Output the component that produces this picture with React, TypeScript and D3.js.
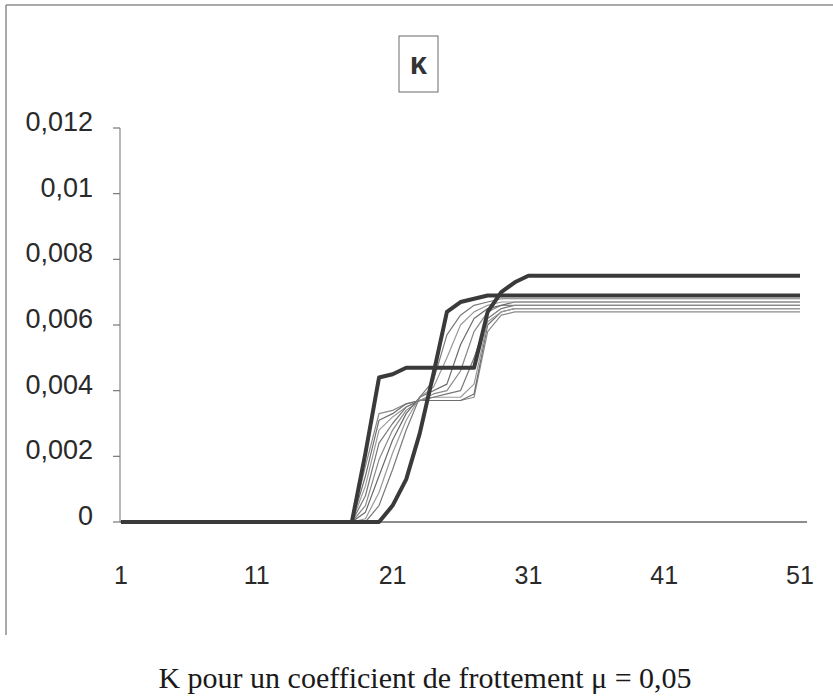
import React from "react";
import * as d3 from "d3";

// category index 1..51
const categories: number[] = d3.range(1, 52);
const xTickLabels: number[] = [1, 11, 21, 31, 41, 51];
const yTicks: number[] = [0, 0.002, 0.004, 0.006, 0.008, 0.01, 0.012];
const yTickLabels: string[] = ["0", "0,002", "0,004", "0,006", "0,008", "0,01", "0,012"];

// thick series (two steps: ~0.0047 then ~0.0075)
const seriesA: number[] = [
  0, 0, 0, 0, 0, 0, 0, 0, 0, 0,
  0, 0, 0, 0, 0, 0, 0, 0, 0.0021, 0.0044,
  0.0045, 0.0047, 0.0047, 0.0047, 0.0047, 0.0047, 0.0047, 0.0064, 0.007, 0.0073,
  0.0075, 0.0075, 0.0075, 0.0075, 0.0075, 0.0075, 0.0075, 0.0075, 0.0075, 0.0075,
  0.0075, 0.0075, 0.0075, 0.0075, 0.0075, 0.0075, 0.0075, 0.0075, 0.0075, 0.0075,
  0.0075,
];
// thick series (late rise to ~0.0069)
const seriesB: number[] = [
  0, 0, 0, 0, 0, 0, 0, 0, 0, 0,
  0, 0, 0, 0, 0, 0, 0, 0, 0, 0,
  0.0005, 0.0013, 0.0027, 0.0045, 0.0064, 0.0067, 0.0068, 0.0069, 0.0069, 0.0069,
  0.0069, 0.0069, 0.0069, 0.0069, 0.0069, 0.0069, 0.0069, 0.0069, 0.0069, 0.0069,
  0.0069, 0.0069, 0.0069, 0.0069, 0.0069, 0.0069, 0.0069, 0.0069, 0.0069, 0.0069,
  0.0069,
];
// thin intermediate series
const seriesT1: number[] = [
  0, 0, 0, 0, 0, 0, 0, 0, 0, 0,
  0, 0, 0, 0, 0, 0, 0, 0, 0.0017, 0.0033,
  0.0034, 0.0036, 0.0037, 0.0037, 0.0037, 0.0037, 0.0038, 0.0058, 0.0063, 0.0064,
  0.0064, 0.0064, 0.0064, 0.0064, 0.0064, 0.0064, 0.0064, 0.0064, 0.0064, 0.0064,
  0.0064, 0.0064, 0.0064, 0.0064, 0.0064, 0.0064, 0.0064, 0.0064, 0.0064, 0.0064,
  0.0064,
];
const seriesT2: number[] = [
  0, 0, 0, 0, 0, 0, 0, 0, 0, 0,
  0, 0, 0, 0, 0, 0, 0, 0, 0.0014, 0.0031,
  0.0033, 0.0036, 0.0037, 0.0037, 0.0037, 0.0037, 0.0039, 0.006, 0.0064, 0.0065,
  0.0065, 0.0065, 0.0065, 0.0065, 0.0065, 0.0065, 0.0065, 0.0065, 0.0065, 0.0065,
  0.0065, 0.0065, 0.0065, 0.0065, 0.0065, 0.0065, 0.0065, 0.0065, 0.0065, 0.0065,
  0.0065,
];
const seriesT3: number[] = [
  0, 0, 0, 0, 0, 0, 0, 0, 0, 0,
  0, 0, 0, 0, 0, 0, 0, 0, 0.0011, 0.0028,
  0.0032, 0.0035, 0.0037, 0.0038, 0.0038, 0.0038, 0.0042, 0.0061, 0.0064, 0.0065,
  0.0065, 0.0065, 0.0065, 0.0065, 0.0065, 0.0065, 0.0065, 0.0065, 0.0065, 0.0065,
  0.0065, 0.0065, 0.0065, 0.0065, 0.0065, 0.0065, 0.0065, 0.0065, 0.0065, 0.0065,
  0.0065,
];
const seriesT4: number[] = [
  0, 0, 0, 0, 0, 0, 0, 0, 0, 0,
  0, 0, 0, 0, 0, 0, 0, 0, 0.0008, 0.0024,
  0.003, 0.0035, 0.0037, 0.0038, 0.0039, 0.004, 0.005, 0.0062, 0.0065, 0.0066,
  0.0066, 0.0066, 0.0066, 0.0066, 0.0066, 0.0066, 0.0066, 0.0066, 0.0066, 0.0066,
  0.0066, 0.0066, 0.0066, 0.0066, 0.0066, 0.0066, 0.0066, 0.0066, 0.0066, 0.0066,
  0.0066,
];
const seriesT5: number[] = [
  0, 0, 0, 0, 0, 0, 0, 0, 0, 0,
  0, 0, 0, 0, 0, 0, 0, 0, 0.0005, 0.0019,
  0.0028, 0.0034, 0.0037, 0.0039, 0.004, 0.0046, 0.0058, 0.0064, 0.0066, 0.0066,
  0.0066, 0.0066, 0.0066, 0.0066, 0.0066, 0.0066, 0.0066, 0.0066, 0.0066, 0.0066,
  0.0066, 0.0066, 0.0066, 0.0066, 0.0066, 0.0066, 0.0066, 0.0066, 0.0066, 0.0066,
  0.0066,
];
const seriesT6: number[] = [
  0, 0, 0, 0, 0, 0, 0, 0, 0, 0,
  0, 0, 0, 0, 0, 0, 0, 0, 0.0003, 0.0014,
  0.0025, 0.0033, 0.0038, 0.004, 0.0042, 0.0054, 0.0062, 0.0065, 0.0066, 0.0067,
  0.0067, 0.0067, 0.0067, 0.0067, 0.0067, 0.0067, 0.0067, 0.0067, 0.0067, 0.0067,
  0.0067, 0.0067, 0.0067, 0.0067, 0.0067, 0.0067, 0.0067, 0.0067, 0.0067, 0.0067,
  0.0067,
];
const seriesT7: number[] = [
  0, 0, 0, 0, 0, 0, 0, 0, 0, 0,
  0, 0, 0, 0, 0, 0, 0, 0, 0.0001, 0.0009,
  0.0021, 0.0031, 0.0038, 0.0041, 0.005, 0.006, 0.0064, 0.0066, 0.0067, 0.0067,
  0.0067, 0.0067, 0.0067, 0.0067, 0.0067, 0.0067, 0.0067, 0.0067, 0.0067, 0.0067,
  0.0067, 0.0067, 0.0067, 0.0067, 0.0067, 0.0067, 0.0067, 0.0067, 0.0067, 0.0067,
  0.0067,
];
const seriesT8: number[] = [
  0, 0, 0, 0, 0, 0, 0, 0, 0, 0,
  0, 0, 0, 0, 0, 0, 0, 0, 0, 0.0005,
  0.0016, 0.0028, 0.0038, 0.0043, 0.0057, 0.0063, 0.0066, 0.0067, 0.0068, 0.0068,
  0.0068, 0.0068, 0.0068, 0.0068, 0.0068, 0.0068, 0.0068, 0.0068, 0.0068, 0.0068,
  0.0068, 0.0068, 0.0068, 0.0068, 0.0068, 0.0068, 0.0068, 0.0068, 0.0068, 0.0068,
  0.0068,
];

const thinSeries: number[][] = [seriesT1, seriesT2, seriesT3, seriesT4, seriesT5, seriesT6, seriesT7, seriesT8];
const thickSeries: number[][] = [seriesB, seriesA];

const W = 833;
const H = 697;

export default function App() {
  const x = d3.scaleLinear().domain([1, 51]).range([121, 800]);
  const y = d3.scaleLinear().domain([0, 0.012]).range([522, 128]);
  const line = d3
    .line<number>()
    .x((_, i) => x(categories[i]))
    .y((d) => y(d));

  const thinColors = ["#8a8a8a", "#6e6e6e", "#9a9a9a", "#777", "#888", "#6a6a6a", "#999", "#7a7a7a"];

  return (
    <svg
      width={W}
      height={H}
      style={{ position: "absolute", left: 0, top: 0, background: "#fff" }}
      xmlns="http://www.w3.org/2000/svg"
    >
      <rect x={0} y={0} width={W} height={H} fill="#fff" />
      {/* outer frame (partially visible) */}
      <line x1={6} y1={5} x2={833} y2={5} stroke="#8c8c8c" strokeWidth={1.5} />
      <line x1={6} y1={5} x2={6} y2={635} stroke="#8c8c8c" strokeWidth={1.5} />

      {/* title box */}
      <rect x={399} y={36} width={39} height={56} fill="#fff" stroke="#6a6a6a" strokeWidth={1} />
      <text
        x={418.5}
        y={74}
        textAnchor="middle"
        fontFamily="Liberation Sans, Arial, sans-serif"
        fontWeight="bold"
        fontSize={31}
        fill="#333"
      >
        κ
      </text>

      {/* y axis */}
      <line x1={120} y1={y(0.012)} x2={120} y2={y(0)} stroke="#888" strokeWidth={1.2} />
      {yTicks.map((t, i) => (
        <g key={"yt" + i}>
          <line x1={113} y1={y(t)} x2={120} y2={y(t)} stroke="#777" strokeWidth={1.2} />
          <text
            x={93}
            y={y(t) + 3}
            textAnchor="end"
            fontFamily="Liberation Sans, Arial, sans-serif"
            fontSize={27}
            fill="#2a2a2a"
          >
            {yTickLabels[i]}
          </text>
        </g>
      ))}

      {/* x axis */}
      <line x1={120} y1={y(0)} x2={807} y2={y(0)} stroke="#666" strokeWidth={1.3} />
      {xTickLabels.map((c) => (
        <text
          key={"xt" + c}
          x={x(c)}
          y={584}
          textAnchor="middle"
          fontFamily="Liberation Sans, Arial, sans-serif"
          fontSize={25}
          fill="#2a2a2a"
        >
          {c}
        </text>
      ))}

      {/* thin series */}
      {thinSeries.map((s, k) => (
        <path
          key={"thin" + k}
          d={line(s) || ""}
          fill="none"
          stroke={thinColors[k]}
          strokeWidth={1.2}
          strokeLinejoin="round"
        />
      ))}
      {/* thick series */}
      {thickSeries.map((s, k) => (
        <path
          key={"thick" + k}
          d={line(s) || ""}
          fill="none"
          stroke="#3a3a3a"
          strokeWidth={4}
          strokeLinejoin="round"
        />
      ))}

      {/* caption */}
      <text
        x={425}
        y={688}
        textAnchor="middle"
        fontFamily="Liberation Serif, Times New Roman, serif"
        fontSize={30}
        fill="#1a1a1a"
      >
        K pour un coefficient de frottement μ = 0,05
      </text>
    </svg>
  );
}
